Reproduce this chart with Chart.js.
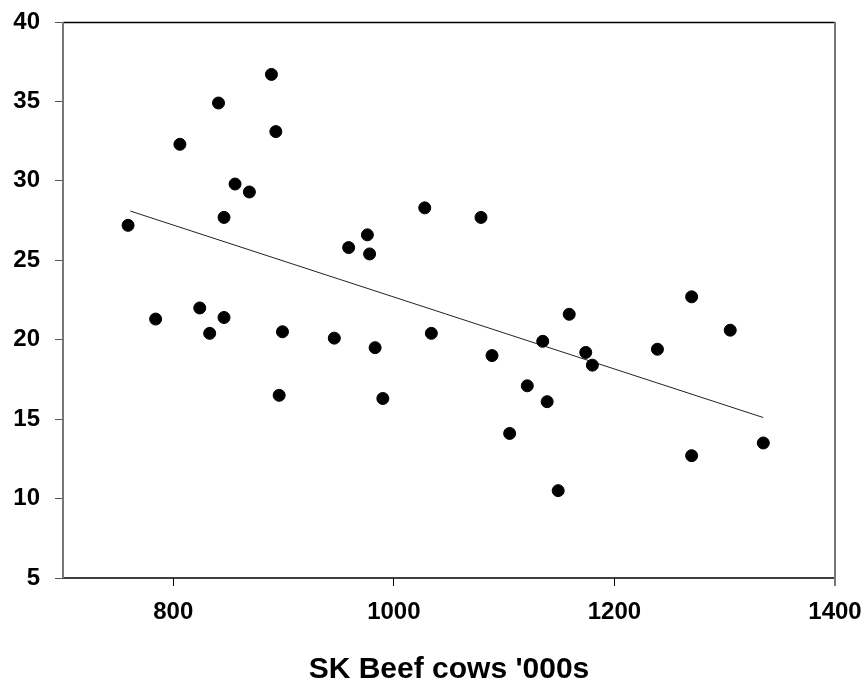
<!DOCTYPE html>
<html>
<head>
<meta charset="utf-8">
<script src="https://cdn.jsdelivr.net/npm/chart.js@4"></script>
<style>
  html, body { margin: 0; padding: 0; background: #fff; }
  #wrap { width: 865px; height: 687px; }
</style>
</head>
<body>
<div id="wrap"><canvas id="scatter"></canvas></div>
<script>
// beef cow numbers ('000s) vs. y value
const cows = [759, 806, 841, 889, 893, 856, 869, 846, 1028, 976, 959, 978,
  784, 824, 846, 833, 899, 946, 983, 1034, 896, 990,
  1079, 1270, 1159, 1305, 1135, 1239, 1174, 1180, 1089, 1121, 1139, 1105, 1270, 1335, 1149];
const values = [27.2, 32.3, 34.9, 36.7, 33.1, 29.8, 29.3, 27.7, 28.3, 26.6, 25.8, 25.4,
  21.3, 22.0, 21.4, 20.4, 20.5, 20.1, 19.5, 20.4, 16.5, 16.3,
  27.7, 22.7, 21.6, 20.6, 19.9, 19.4, 19.2, 18.4, 19.0, 17.1, 16.1, 14.1, 12.7, 13.5, 10.5];

// fitted trend line end points
const trendX = [761, 1335];
const trendY = [28.1, 15.1];

const xTicks = [800, 1000, 1200, 1400];
const yTicks = [5, 10, 15, 20, 25, 30, 35, 40];
const xTitle = "SK Beef cows '000s";

const font = { family: "'Liberation Sans', Arial, sans-serif", size: 24, weight: "bold" };

// frame around the plot area
const framePlugin = {
  id: "frame",
  afterDraw(chart) {
    const { ctx, chartArea: a } = chart;
    ctx.save();
    ctx.lineWidth = 1.5;
    ctx.strokeStyle = "#000";
    ctx.beginPath();
    ctx.moveTo(a.left, a.top + 0.5);
    ctx.lineTo(a.right, a.top + 0.5);
    ctx.moveTo(a.left, a.bottom);
    ctx.lineTo(a.right, a.bottom);
    ctx.stroke();
    ctx.strokeStyle = "#777";
    ctx.lineWidth = 2;
    ctx.beginPath();
    ctx.moveTo(a.left, a.top);
    ctx.lineTo(a.left, a.bottom);
    ctx.moveTo(a.right, a.top);
    ctx.lineTo(a.right, a.bottom + 8);
    ctx.stroke();
    ctx.restore();
  }
};

new Chart(document.getElementById("scatter"), {
  type: "scatter",
  data: {
    datasets: [
      {
        data: cows.map((c, i) => ({ x: c, y: values[i] })),
        backgroundColor: "#000",
        borderColor: "#000",
        pointRadius: 6,
        pointHoverRadius: 6
      },
      {
        type: "line",
        data: trendX.map((x, i) => ({ x: x, y: trendY[i] })),
        borderColor: "#222",
        borderWidth: 1,
        pointRadius: 0,
        fill: false
      }
    ]
  },
  options: {
    responsive: true,
    maintainAspectRatio: false,
    animation: false,
    layout: { padding: { top: 22, right: 30, left: 0, bottom: 0 } },
    plugins: { legend: { display: false }, tooltip: { enabled: false } },
    scales: {
      x: {
        type: "linear",
        min: 700,
        max: 1400,
        afterBuildTicks: axis => { axis.ticks = xTicks.map(v => ({ value: v })); },
        afterFit: axis => {
          axis.height = 109;
          axis.paddingLeft = 0;
          axis.paddingRight = 0;
        },
        grid: { drawOnChartArea: false, tickLength: 8, color: "#000", tickColor: "#000" },
        border: { display: false },
        ticks: { color: "#000", font: font, padding: 12, maxRotation: 0, callback: v => String(v) },
        title: {
          display: true,
          text: xTitle,
          color: "#000",
          font: { family: font.family, size: 30, weight: "bold" },
          padding: { top: 4, bottom: -1 }
        }
      },
      y: {
        min: 5,
        max: 40,
        afterBuildTicks: axis => { axis.ticks = yTicks.map(v => ({ value: v })); },
        afterFit: axis => {
          axis.width = 63;
          axis.paddingTop = 0;
          axis.paddingBottom = 0;
        },
        grid: { drawOnChartArea: false, tickLength: 8, color: "#555", tickColor: "#555" },
        border: { display: false },
        ticks: { color: "#000", font: font, padding: 15, callback: v => String(v) }
      }
    }
  },
  plugins: [framePlugin]
});
</script>
</body>
</html>
